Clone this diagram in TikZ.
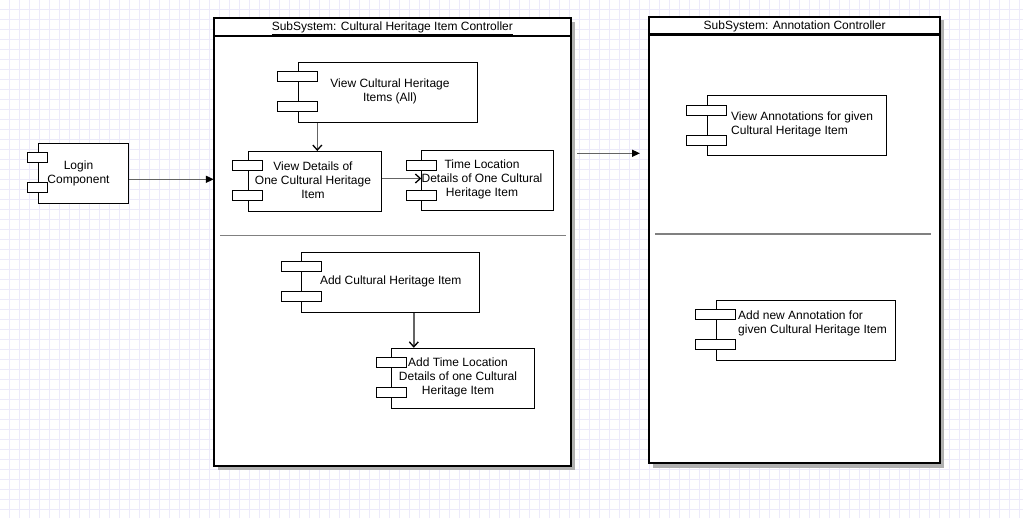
\documentclass[tikz,border=0pt]{standalone}
\usepackage{fontspec}
\setmainfont{Liberation Sans}
\usepackage{xcolor}
\usepackage{tikz}
\usetikzlibrary{arrows.meta}
\definecolor{gridcol}{RGB}{236,234,250}
\definecolor{linegray}{RGB}{100,100,100}
\definecolor{shadowgray}{RGB}{176,176,176}
\definecolor{sepgray}{RGB}{128,128,128}
\tikzset{
	compbox/.style={rectangle, draw=black, fill=white, line width=1pt, minimum height=60pt, inner sep=0pt},
	port/.style={draw=black, fill=white, line width=1pt},
	lbl/.style={align=center, inner sep=0pt, font=\fontsize{12}{14}\selectfont},
	subsys/.style={rectangle, draw=black, fill=white, line width=2.2pt, inner sep=0pt},
	flow/.style={draw=linegray, line width=1.5pt, -{Triangle[length=8pt,width=7pt,black]}},
	call/.style={draw=linegray, line width=1.5pt, -{Straight Barb[length=5pt,width=9pt,line width=1.3pt,black]}}
}
% two port boxes on the left edge of a component (#2 = half width)
\newcommand{\compports}[2]{%
	\draw[port] ([xshift=-#2pt,yshift=-10pt]#1.north west) rectangle ([xshift=#2pt,yshift=-20pt]#1.north west);
	\draw[port] ([xshift=-#2pt,yshift=-40pt]#1.north west) rectangle ([xshift=#2pt,yshift=-50pt]#1.north west);
}
% flat grey shadow behind a subsystem
\newcommand{\subshadow}[1]{%
	\fill[shadowgray] ([shift={(4pt,-4pt)}]#1.south west) rectangle ([shift={(4pt,-4pt)}]#1.north east);
}

\begin{document}
\begin{tikzpicture}[x=1pt, y=-1pt]
		\useasboundingbox (0,0) rectangle (1023,518);
		\fill[white] (0,0) rectangle (1023,518);
		\draw[gridcol, line width=0.7pt, step=10pt, shift={(-0.5,-0.5)}] (0,0) grid (1030,525);
		
		%subsystems
		\node[minimum width=356.7pt, minimum height=447.7pt, inner sep=0pt] at (392.35,242.15) (ctrlA) {};
		\node[minimum width=290.7pt, minimum height=446.6pt, inner sep=0pt] at (794.65,240) (ctrlB) {};
		\subshadow{ctrlA}
		\subshadow{ctrlB}
		\node[subsys, minimum width=356.7pt, minimum height=447.7pt] at (ctrlA) {};
		\node[subsys, minimum width=290.7pt, minimum height=446.6pt] at (ctrlB) {};
		\draw[line width=2.2pt] ([yshift=-18pt]ctrlA.north west) -- ([yshift=-18pt]ctrlA.north east);
		\draw[line width=2.2pt] ([yshift=-18pt]ctrlB.north west) -- ([yshift=-18pt]ctrlB.north east);
		\node[lbl] at ([yshift=-10.5pt]ctrlA.north) (titleA) {\underline{SubSystem: Cultural Heritage Item Controller}};
		\node[lbl] at ([yshift=-10.5pt]ctrlB.north) (titleB) {\underline{SubSystem: Annotation Controller}};
		\draw[sepgray, line width=1.6pt] (220,235.7) -- (565.7,235.7);
		\draw[sepgray, line width=1.6pt] (655,234) -- (931,234);
		
		%components
		\node[compbox, minimum width=90pt] at (83.3,173.3) (login) {};
		\node[compbox, minimum width=179pt] at (387.8,92.3) (viewall) {};
		\node[compbox, minimum width=133pt] at (314.7,181.5) (details) {};
		\node[compbox, minimum width=132pt] at (487.8,180.7) (timeloc) {};
		\node[compbox, minimum width=178pt] at (390.8,282.3) (addchi) {};
		\node[compbox, minimum width=143pt] at (463,378.3) (addtime) {};
		\node[compbox, minimum width=179pt] at (796.8,125.7) (viewann) {};
		\node[compbox, minimum width=179pt] at (805.8,330.3) (addann) {};
		
		\compports{login}{10}
		\compports{viewall}{20}
		\compports{details}{15}
		\compports{timeloc}{15}
		\compports{addchi}{20}
		\compports{addtime}{15}
		\compports{viewann}{20}
		\compports{addann}{20}
		
		%labels
		\node[lbl] at (78.5,173) (loginT) {Login\\Component};
		\node[lbl] at (390,91.7) (viewallT) {View Cultural Heritage\\Items (All)};
		\node[lbl] at (313,180.7) (detailsT) {View Details of\\One Cultural Heritage\\Item};
		\node[lbl] at (482,179.7) (timelocT) {Time Location\\Details of One Cultural\\Heritage Item};
		\node[lbl] at (390.7,281.7) (addchiT) {Add Cultural Heritage Item};
		\node[lbl] at (458,377.7) (addtimeT) {Add Time Location\\Details of one Cultural\\Heritage Item};
		\node[lbl, align=left, anchor=west] at (731,124.7) (viewannT) {View Annotations for given\\Cultural Heritage Item};
		\node[lbl, align=left, anchor=west] at (738,323) (addannT) {Add new Annotation for\\given Cultural Heritage Item};
		
		%Lines
		\coordinate (gapA) at (577,153.3);
		\coordinate (gapB) at (640,153.3);
		\draw[flow] ([yshift=-6pt]login.east) -- ([yshift=-6pt]login.east -| ctrlA.west);
		\draw[flow] (gapA) -- (gapB);
		\draw[call] ([xshift=-70.5pt]viewall.south) -- ([xshift=-70.5pt]viewall.south |- details.north);
		\draw[call] ([yshift=3pt]details.east) -- ([yshift=3pt]details.east -| timeloc.west);
		\draw[call] ([xshift=23pt]addchi.south) -- ([xshift=23pt]addchi.south |- addtime.north);
		
	\end{tikzpicture}
\end{document}
